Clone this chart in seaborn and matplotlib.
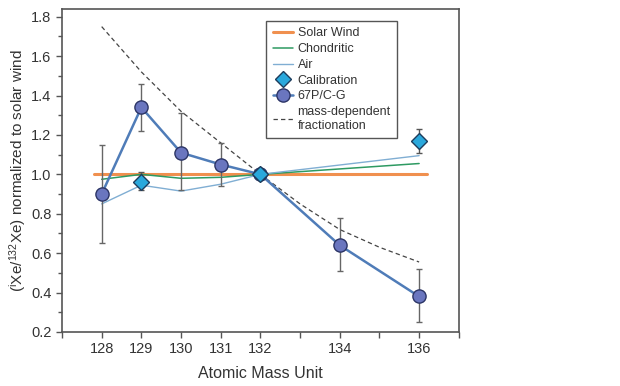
import numpy as np
import pandas as pd
import seaborn as sns
import matplotlib.pyplot as plt

# masses plotted on the x axis
mass = [128, 129, 130, 131, 132, 134, 136]

# 67P/C-G measurement with error bars
comet = [0.90, 1.34, 1.11, 1.05, 1.00, 0.64, 0.38]
comet_lo = [0.65, 1.22, 0.92, 0.94, 1.00, 0.51, 0.25]
comet_hi = [1.15, 1.46, 1.31, 1.16, 1.00, 0.78, 0.52]

# calibration points
cal_mass = [129, 132, 136]
cal = [0.96, 1.00, 1.17]
cal_lo = [0.92, 1.00, 1.11]
cal_hi = [1.01, 1.00, 1.23]

# reference compositions
sw_mass = [127.8, 136.2]
solar_wind = [1.0, 1.0]
chond_mass = [128, 129, 130, 131, 132, 136]
chondritic = [0.975, 1.0, 0.98, 0.985, 1.0, 1.055]
air_mass = [128, 129, 130, 131, 132, 136]
air = [0.85, 0.945, 0.915, 0.95, 1.0, 1.095]

# mass-dependent fractionation curve
frac_mass = [128, 129, 130, 131, 132, 133, 134, 135, 136]
frac = [1.75, 1.52, 1.32, 1.16, 1.00, 0.85, 0.72, 0.63, 0.555]

sns.set_style('ticks')
plt.rcParams['font.family'] = ['Liberation Sans', 'DejaVu Sans']
plt.rcParams['mathtext.fontset'] = 'custom'
plt.rcParams['mathtext.rm'] = 'Liberation Sans'
plt.rcParams['mathtext.it'] = 'Liberation Sans:italic'

txt = '#333333'
fig = plt.figure(figsize=(6.2, 3.86), dpi=100)
ax = fig.add_axes([0.100, 0.140, 0.640, 0.837])

sns.lineplot(x=sw_mass, y=solar_wind, ax=ax, color='#f0904f', lw=2.2,
             label='Solar Wind')
sns.lineplot(x=chond_mass, y=chondritic, ax=ax, color='#2e9a62', lw=1.1,
             label='Chondritic', sort=False)
sns.lineplot(x=air_mass, y=air, ax=ax, color='#80aed3', lw=1.0,
             label='Air', sort=False)

ax.errorbar(cal_mass, cal,
            yerr=[np.subtract(cal, cal_lo), np.subtract(cal_hi, cal)],
            fmt='none', ecolor='#555555', elinewidth=1, capsize=2.5, zorder=3)
ax.errorbar(mass, comet,
            yerr=[np.subtract(comet, comet_lo), np.subtract(comet_hi, comet)],
            fmt='none', ecolor='#666666', elinewidth=1, capsize=2.5, zorder=3)

sns.lineplot(x=mass, y=comet, ax=ax, color='#4f7cb8', lw=1.8, marker='o',
             markersize=9.5, markerfacecolor='#6a76bf',
             markeredgecolor='#2c3566', markeredgewidth=1.0,
             label='67P/C-G', sort=False, zorder=4)
sns.lineplot(x=cal_mass, y=cal, ax=ax, lw=0, marker='D', markersize=8,
             markerfacecolor='#2aa8dc', markeredgecolor='#1d3c5c',
             markeredgewidth=1.0, label='Calibration', zorder=5)
sns.lineplot(x=frac_mass, y=frac, ax=ax, color='#444444', lw=0.9,
             linestyle=(0, (3.5, 2.5)), label='mass-dependent\nfractionation',
             zorder=2)

ax.set_xlim(127, 137)
ax.set_ylim(0.2, 1.84)
ax.set_xticks([127, 128, 129, 130, 131, 132, 133, 134, 135, 136, 137])
ax.set_xticklabels(['', '128', '129', '130', '131', '132', '', '134', '',
                    '136', ''])
ax.set_yticks([0.2, 0.4, 0.6, 0.8, 1.0, 1.2, 1.4, 1.6, 1.8])
ax.set_yticks(np.arange(0.3, 1.8, 0.2), minor=True)
ax.tick_params(axis='both', which='major', labelsize=10.5, colors='#555555',
               labelcolor=txt, length=4, width=1, direction='out')
ax.tick_params(axis='y', which='minor', length=3, width=1, colors='#555555')
for s in ax.spines.values():
    s.set_color('#555555')
    s.set_linewidth(1.2)

ax.set_xlabel('Atomic Mass Unit', fontsize=11.5, color=txt, labelpad=7)
ax.set_ylabel(r'($^{\mathrm{i}}$Xe/$^{132}$Xe) normalized to solar wind',
              fontsize=11, color=txt, labelpad=2)

h, l = ax.get_legend_handles_labels()
order = [l.index(n) for n in ['Solar Wind', 'Chondritic', 'Air', 'Calibration',
                              '67P/C-G', 'mass-dependent\nfractionation']]
leg = ax.legend([h[i] for i in order], [l[i] for i in order],
                loc='upper left', bbox_to_anchor=(0.515, 0.962),
                fontsize=9, frameon=True, fancybox=False, framealpha=1,
                edgecolor='#555555', handlelength=1.6, handletextpad=0.4,
                labelspacing=0.3, borderpad=0.5, borderaxespad=0,
                labelcolor=txt)
leg.get_frame().set_linewidth(1.0)

fig.savefig('out.png', dpi=100)
